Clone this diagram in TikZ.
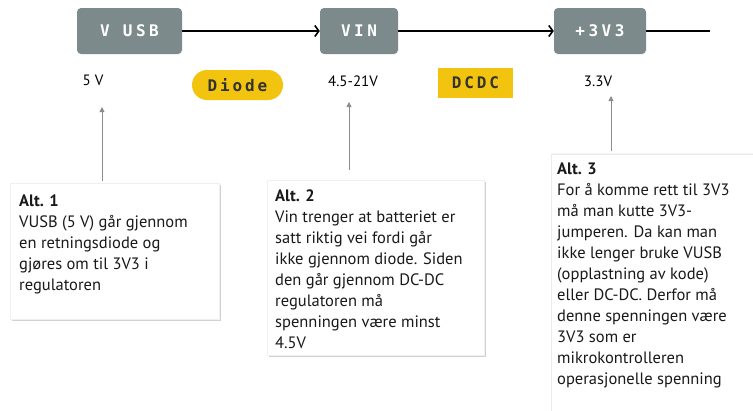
\documentclass[tikz,border=0pt]{standalone}
\usepackage{fontspec}
\setmainfont{PT Sans}
\newfontfamily\stagefont{DejaVu Sans Mono}[LetterSpace=22]
\newfontfamily\tagfont{DejaVu Sans Mono}[LetterSpace=18]
\usetikzlibrary{arrows.meta,shadows}
\definecolor{boxgray}{HTML}{7C8A8B}
\definecolor{tagyellow}{HTML}{F2C40F}
\definecolor{ptrgray}{HTML}{8C8C8C}
\definecolor{tagtext}{HTML}{333333}
\begin{document}
\begin{tikzpicture}[x=1pt,y=-1pt,
  stage/.style={fill=boxgray, rounded corners=4pt, text=white,
    font=\stagefont\bfseries\fontsize{16}{16}\selectfont,
    minimum height=46pt, inner sep=0pt},
  tag/.style={fill=tagyellow, text=tagtext,
    font=\tagfont\bfseries\fontsize{16}{16}\selectfont,
    minimum height=30pt, inner sep=0pt},
  volt/.style={font=\fontsize{15}{15}\selectfont, inner sep=0pt},
  flow/.style={line width=1.8pt, -{Straight Barb[length=4pt,width=11pt,line width=1.6pt]}},
  pointer/.style={draw=ptrgray, line width=0.9pt, -{Triangle[length=5pt,width=5pt]}},
  altbox/.style={fill=white, draw=black!6, line width=0.4pt,
    drop shadow={opacity=0.35, shadow xshift=1.5pt, shadow yshift=-1.8pt},
    inner sep=0pt, anchor=north west},
  alttext/.style={font=\fontsize{16.5}{21}\selectfont, align=left,
    inner sep=0pt, anchor=north west, text=black!90}
]
\useasboundingbox[fill=white] (0,0) rectangle (753,410);

% stages
\node[stage, minimum width=105pt] (vusb) at (129.5,31) {V USB};
\node[stage, minimum width=78pt] (vin) at (359,31) {VIN};
\node[stage, minimum width=92pt] (v33) at (600,31) {+3V3};
\coordinate (lineend) at (710,31);

\draw[flow] (vusb.east) -- (vin.west);
\draw[flow] (vin.east) -- (v33.west);
\draw[line width=1.8pt] (v33.east) -- (lineend);

% voltages and parts
\node[volt] (l5) at (93,80) {5 V};
\node[volt] (l45) at (353,81) {4.5-21V};
\node[volt] (l33) at (598,81) {3.3V};
\node[tag, minimum width=91pt, rounded corners=15pt] (diode) at (237.5,85) {Diode};
\node[tag, minimum width=75pt] (dcdc) at (475.5,82.5) {DCDC};

% explanation boxes
\node[altbox, minimum width=209pt, minimum height=136pt] (box1) at (10,183) {};
\node[altbox, minimum width=217pt, minimum height=175pt] (box2) at (267,180) {};
\node[altbox, draw=black!8, drop shadow={opacity=0.08, shadow xshift=0pt, shadow yshift=1pt},
  minimum width=215pt, minimum height=270pt] (box3) at (551,154) {};

\node[alttext] (t1) at (19,195) {\textbf{Alt. 1}\\VUSB (5 V) går gjennom\\en retningsdiode og\\gjøres om til 3V3 i\\regulatoren};
\node[alttext] (t2) at (275,190) {\textbf{Alt. 2}\\Vin trenger at batteriet er\\satt riktig vei fordi går\\ikke gjennom diode. Siden\\den går gjennom DC-DC\\regulatoren må\\spenningen være minst\\4.5V};
\node[alttext] (t3) at (557,163) {\textbf{Alt. 3}\\For å komme rett til 3V3\\må man kutte 3V3-\\jumperen. Da kan man\\ikke lenger bruke VUSB\\(opplastning av kode)\\eller DC-DC. Derfor må\\denne spenningen være\\3V3 som er\\mikrokontrolleren\\operasjonelle spenning};

% pointers
\coordinate (p1) at (102,181);
\coordinate (q1) at (102,107);
\coordinate (p2) at (349,170);
\coordinate (q2) at (349,102);
\coordinate (p3) at (611,151);
\coordinate (q3) at (611,96);
\draw[pointer] (p1) -- (q1);
\draw[pointer] (p2) -- (q2);
\draw[pointer] (p3) -- (q3);
\end{tikzpicture}
\end{document}
